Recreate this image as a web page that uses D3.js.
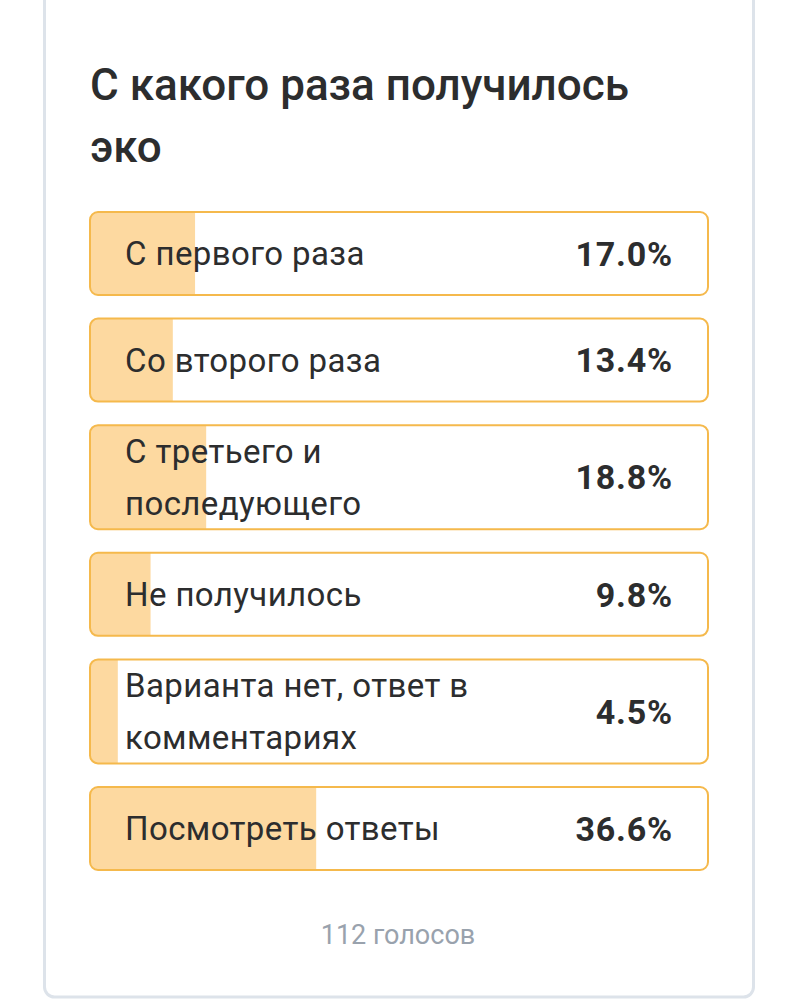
<!DOCTYPE html>
<html><head><meta charset="utf-8">
<script src="https://cdn.jsdelivr.net/npm/d3@7"></script>
<style>body{margin:0;background:#fff;font-family:Roboto,"Noto Sans",sans-serif;}</style>
</head><body><div id="vis"></div>
<script>
var title = ["С какого раза получилось", "эко"];
var labels = [["С первого раза"], ["Со второго раза"], ["С третьего и", "последующего"], ["Не получилось"], ["Варианта нет, ответ в", "комментариях"], ["Посмотреть ответы"]];
var values = [17.0, 13.4, 18.8, 9.8, 4.5, 36.6];
var footer = "112 голосов";

var width = 798, height = 1000;
var svg = d3.select("#vis").append("svg").attr("width", width).attr("height", height);

// card
svg.append("rect").attr("x", 44.5).attr("y", -20).attr("width", 709).attr("height", 1017)
  .attr("rx", 10).attr("fill", "#fff").attr("stroke", "#dde3ea").attr("stroke-width", 3);

svg.selectAll("text.title").data(title).enter().append("text")
  .attr("x", 90).attr("y", function(d, i) { return 100 + i * 62; })
  .attr("font-size", 44).attr("font-weight", 500).attr("fill", "#2c2d2e")
  .text(function(d) { return d; });

var x = d3.scaleLinear().domain([0, 100]).range([0, 618]);

// row layout: one-line rows 83px, two-line rows 104px
var y = 212, rows = [];
labels.forEach(function(l, i) {
  var h = l.length > 1 ? 104 : 83;
  rows.push({label: l, value: values[i], y: y, h: h});
  y += h + 23.6;
});

svg.append("defs").selectAll("clipPath").data(rows).enter().append("clipPath")
  .attr("id", function(d, i) { return "c" + i; })
  .append("rect").attr("x", 90).attr("y", function(d) { return d.y; })
  .attr("width", 618).attr("height", function(d) { return d.h; }).attr("rx", 8);

var g = svg.selectAll("g.row").data(rows).enter().append("g");
g.append("rect").attr("x", 90).attr("y", function(d) { return d.y; })
  .attr("width", function(d) { return x(d.value); }).attr("height", function(d) { return d.h; })
  .attr("fill", "#fdd9a0").attr("clip-path", function(d, i) { return "url(#c" + i + ")"; });
g.append("rect").attr("x", 90).attr("y", function(d) { return d.y; })
  .attr("width", 618).attr("height", function(d) { return d.h; }).attr("rx", 8)
  .attr("fill", "none").attr("stroke", "#f5b94c").attr("stroke-width", 2);

g.each(function(d) {
  var sel = d3.select(this), mid = d.y + d.h / 2;
  d.label.forEach(function(t, j) {
    var off = (j - (d.label.length - 1) / 2) * 52;
    sel.append("text").attr("x", 125).attr("y", mid + off).attr("dy", "0.36em")
      .attr("font-size", 33).attr("letter-spacing", 0.4).attr("fill", "#2c2d2e").text(t);
  });
  sel.append("text").attr("x", 673).attr("y", mid).attr("dy", "0.36em").attr("text-anchor", "end")
    .attr("font-size", 34).attr("font-weight", 700).attr("letter-spacing", 0.8).attr("fill", "#2c2d2e")
    .text(d3.format(".1f")(d.value) + "%");
});

svg.append("text").attr("x", 398).attr("y", 944).attr("text-anchor", "middle")
  .attr("font-size", 27).attr("fill", "#99a2ad").text(footer);
</script></body></html>
